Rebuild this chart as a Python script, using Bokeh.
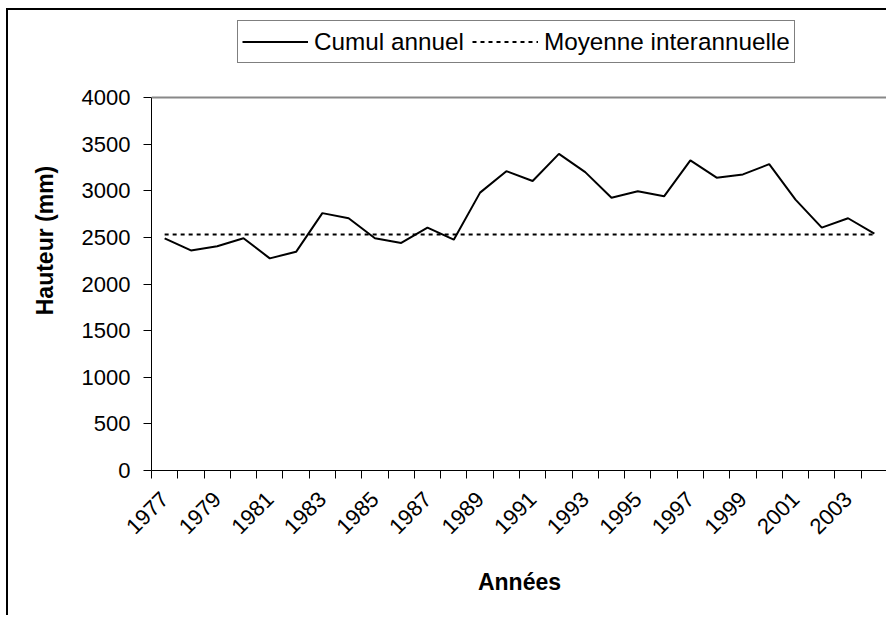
from bokeh.plotting import figure
from bokeh.models import Range1d, FixedTicker, Legend, LegendItem, Span, LinearAxis
from bokeh.embed import file_html
from bokeh.resources import INLINE

# ---- data ----
years = [1977, 1978, 1979, 1980, 1981, 1982, 1983, 1984, 1985, 1986,
         1987, 1988, 1989, 1990, 1991, 1992, 1993, 1994, 1995, 1996,
         1997, 1998, 1999, 2000, 2001, 2002, 2003, 2004]
cumul_annuel = [2490, 2360, 2405, 2490, 2275, 2345, 2760, 2705, 2490, 2440,
                2605, 2475, 2980, 3210, 3105, 3395, 3200, 2925, 2995, 2940,
                3325, 3140, 3175, 3285, 2905, 2605, 2705, 2540]
moyenne_interannuelle = 2530
y_ticks = [0, 500, 1000, 1500, 2000, 2500, 3000, 3500, 4000]
label_years = years[::2]

FONT = "Liberation Sans"
W, H = 880, 607
FRAME_TOP_PX = 87       # canvas px where the 4000 line sits
FRAME_BOTTOM_PX = 460   # canvas px where 0 sits

n = len(years)
xs = [i + 0.5 for i in range(n)]
moy = [moyenne_interannuelle] * n

y_max = y_ticks[-1]
# extend the data range upward so that the legend lives inside the frame
y_top = y_max * FRAME_BOTTOM_PX / (FRAME_BOTTOM_PX - FRAME_TOP_PX)

p = figure(width=W, height=H, output_backend="svg", toolbar_location=None,
           x_range=Range1d(0, n), y_range=Range1d(0, y_top),
           min_border_left=143, min_border_top=0,
           min_border_bottom=H - FRAME_BOTTOM_PX, min_border_right=1)
p.styles = {"border-left": "2px solid black", "border-top": "2px solid black",
            "margin-left": "6px", "margin-top": "8px"}
p.background_fill_color = "white"
p.border_fill_color = "white"
p.outline_line_color = None
p.xgrid.visible = False
p.ygrid.visible = False

r1 = p.line(xs, cumul_annuel, line_color="black", line_width=2)
r2 = p.line(xs, moy, line_color="black", line_width=2, line_dash="4 4")

# gray plot-area border top / right
p.add_layout(Span(location=y_max, dimension="width", line_color="#888888", line_width=2))
ra = LinearAxis(bounds=(0, y_max), ticker=FixedTicker(ticks=[]),
                axis_line_color="#888888", axis_line_width=2,
                major_tick_line_color=None, minor_tick_line_color=None,
                major_label_text_font_size="0px")
p.add_layout(ra, "right")

# x axis
xa = p.xaxis[0]
label_pos = [xs[years.index(y)] for y in label_years]
xa.ticker = FixedTicker(ticks=label_pos, minor_ticks=list(range(n + 1)))
xa.major_label_overrides = {pos: str(y) for pos, y in zip(label_pos, label_years)}
xa.major_tick_line_color = None
xa.major_tick_out = 8
xa.major_tick_in = 0
xa.minor_tick_line_color = "black"
xa.minor_tick_out = 8
xa.minor_tick_in = 0
xa.major_label_orientation = 0.785398
xa.major_label_text_font = FONT
xa.major_label_text_font_size = "22px"
xa.major_label_text_color = "black"
xa.major_label_standoff = 17
xa.axis_line_color = "black"
xa.axis_label = "Années"
xa.axis_label_text_font = FONT
xa.axis_label_text_font_size = "23px"
xa.axis_label_text_font_style = "bold"
xa.axis_label_text_color = "black"
xa.axis_label_standoff = 25

# y axis
ya = p.yaxis[0]
ya.bounds = (0, y_max)
ya.ticker = FixedTicker(ticks=y_ticks)
ya.major_tick_out = 8
ya.major_tick_in = 0
ya.minor_tick_line_color = None
ya.major_tick_line_color = "black"
ya.axis_line_color = "black"
ya.major_label_text_font = FONT
ya.major_label_text_font_size = "22px"
ya.major_label_text_color = "black"
ya.major_label_standoff = 13
ya.axis_label = "Hauteur (mm)"
ya.axis_label_text_font = FONT
ya.axis_label_text_font_size = "23px"
ya.axis_label_text_font_style = "bold"
ya.axis_label_text_color = "black"
ya.axis_label_standoff = 21

# legend inside the (extended) frame, above the 4000 line
legend = Legend(items=[LegendItem(label="Cumul annuel", renderers=[r1]),
                       LegendItem(label="Moyenne interannuelle", renderers=[r2])],
                orientation="horizontal", location=(86, FRAME_BOTTOM_PX - 53),
                label_text_font=FONT, label_text_font_size="24.3px",
                label_text_color="black",
                glyph_width=66, glyph_height=33, label_standoff=6, spacing=8,
                padding=4, margin=0,
                border_line_color="black", border_line_width=1,
                background_fill_color="white", background_fill_alpha=1)
p.add_layout(legend, "center")

open("out.html", "w").write(file_html(p, INLINE))
